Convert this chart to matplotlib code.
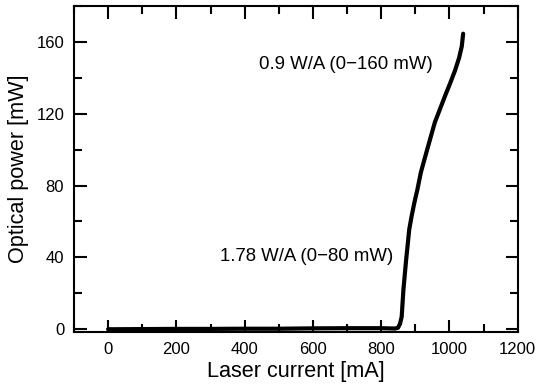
import matplotlib
matplotlib.use("Agg")
import matplotlib.pyplot as plt
from matplotlib.ticker import MultipleLocator

plt.rcParams['font.family'] = ['Liberation Sans', 'DejaVu Sans']

current_mA = [0, 100, 200, 300, 400, 500, 600, 700, 800, 840, 849, 855, 860, 865,
              873, 877, 882, 889, 897, 906, 916, 928, 942, 957, 972, 987,
              1001, 1016, 1028, 1036, 1040]
power_mW = [0.0, 0.1, 0.2, 0.2, 0.3, 0.3, 0.5, 0.6, 0.6, 0.4, 0.8, 3.0, 7.0, 22,
            38.7, 46, 55.5, 62.9, 70.4, 77.8, 87.2, 95.5, 105, 115.1, 122.5, 129.9,
            136.5, 143.9, 151, 157.5, 164.5]

label_high = "0.9 W/A (0\u2212160 mW)"
label_low = "1.78 W/A (0\u221280 mW)"
xticks = [0, 200, 400, 600, 800, 1000, 1200]
yticks = [0, 40, 80, 120, 160]

fig = plt.figure(figsize=(5.36, 3.91), dpi=100)
ax = fig.add_axes([0.138, 0.151, 0.828, 0.834])
ax.plot(current_mA, power_mW, color='black', lw=3, solid_capstyle='round',
        solid_joinstyle='round')

ax.set_xlim(-100, 1200)
ax.set_ylim(-1.5, 180)
ax.set_xticks(xticks)
ax.set_yticks(yticks)
ax.xaxis.set_minor_locator(MultipleLocator(100))
ax.yaxis.set_minor_locator(MultipleLocator(20))
ax.tick_params(which='both', direction='in', top=True, right=True, width=1.5,
               labelsize=12, pad=7)
ax.tick_params(which='major', length=9)
ax.tick_params(which='minor', length=5.5)
for s in ax.spines.values():
    s.set_linewidth(1.5)

ax.set_xlabel("Laser current [mA]", fontsize=15.6, labelpad=3)
ax.set_ylabel("Optical power [mW]", fontsize=15.6, labelpad=5)

ax.text(952, 147.6, label_high, fontsize=13.4, ha='right', va='center')
ax.text(835, 40.4, label_low, fontsize=13.4, ha='right', va='center')

fig.savefig("out.png", dpi=100)
